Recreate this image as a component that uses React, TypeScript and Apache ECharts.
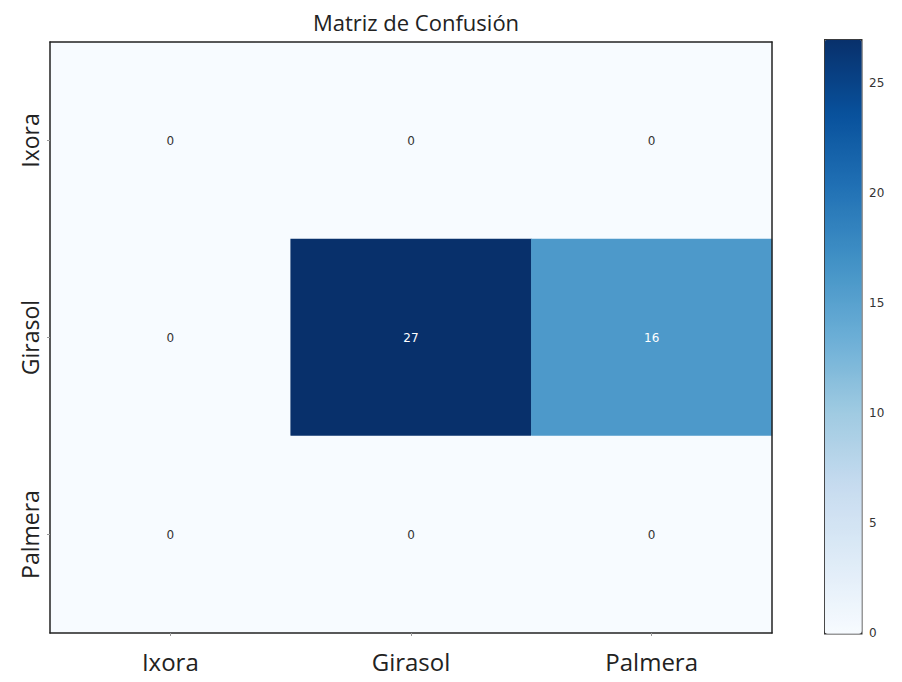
import React, { useEffect, useRef } from "react";
import * as echarts from "echarts";

// Class names (actual on rows, predicted on columns)
const classes = ["Ixora", "Girasol", "Palmera"];
// Confusion counts, one row per actual class
const rowIxora = [0, 0, 0];
const rowGirasol = [0, 27, 16];
const rowPalmera = [0, 0, 0];
const matrix = [rowIxora, rowGirasol, rowPalmera];
// Colour-bar range and ticks
const scaleMin = 0;
const scaleMax = 27;
const colorbarTicks = [0, 5, 10, 15, 20, 25];

// Matplotlib "Blues" colour map
const blues = ["#f7fbff", "#deebf7", "#c6dbef", "#9ecae1", "#6baed6", "#4292c6", "#2171b5", "#08519c", "#08306b"];

export default function App() {
  const ref = useRef<HTMLDivElement>(null);

  useEffect(() => {
    if (!ref.current) return;
    const chart = echarts.init(ref.current, undefined, { renderer: "svg" });

    const data: any[] = [];
    matrix.forEach((row, r) => {
      row.forEach((v, c) => {
        data.push({
          value: [c, r, v],
          label: { color: v > scaleMax / 2 ? "#ffffff" : "#333333" },
        });
      });
    });

    const labelFont = "Open Sans";

    chart.setOption({
      animation: false,
      backgroundColor: "#ffffff",
      title: {
        text: "Matriz de Confusión",
        left: 411,
        textAlign: "center",
        top: 6,
        textStyle: { fontFamily: labelFont, fontSize: 22, fontWeight: "normal", color: "#222" },
      },
      grid: [
        { left: 50, right: 130, top: 42, bottom: 49 },
        { left: 824, width: 37, top: 39, height: 594 },
      ],
      xAxis: [
        {
          type: "category",
          gridIndex: 0,
          data: classes,
          position: "bottom",
          axisLine: { show: true, lineStyle: { color: "#222", width: 1.5 } },
          axisTick: { show: true, alignWithLabel: true, length: 3, lineStyle: { color: "#999" } },
          axisLabel: { fontFamily: labelFont, fontSize: 24, color: "#222", margin: 16 },
          splitLine: { show: false },
          z: 10,
        },
        {
          type: "category",
          gridIndex: 0,
          data: classes,
          position: "top",
          axisLine: { show: true, lineStyle: { color: "#222", width: 1.5 } },
          axisTick: { show: false },
          axisLabel: { show: false },
          z: 10,
        },
        {
          type: "value",
          gridIndex: 1,
          show: false,
        },
      ],
      yAxis: [
        {
          type: "category",
          gridIndex: 0,
          data: classes,
          inverse: true,
          position: "left",
          axisLine: { show: true, lineStyle: { color: "#222", width: 1.5 } },
          axisTick: { show: true, alignWithLabel: true, length: 3, lineStyle: { color: "#999" } },
          axisLabel: { fontFamily: labelFont, fontSize: 23, color: "#222", rotate: 90, margin: 9 },
          z: 10,
        },
        {
          type: "category",
          gridIndex: 0,
          data: classes,
          inverse: true,
          position: "right",
          axisLine: { show: true, lineStyle: { color: "#222", width: 1.5 } },
          axisTick: { show: false },
          axisLabel: { show: false },
          z: 10,
        },
        {
          type: "value",
          gridIndex: 1,
          min: scaleMin,
          max: scaleMax,
          position: "right",
          axisLine: { show: false },
          splitLine: { show: false },
          axisTick: { show: true, length: 5, customValues: colorbarTicks, lineStyle: { color: "#555" } },
          axisLabel: {
            customValues: colorbarTicks,
            fontFamily: "DejaVu Sans",
            fontSize: 12,
            color: "#333",
            margin: 8,
          },
        },
      ],
      visualMap: {
        type: "continuous",
        min: scaleMin,
        max: scaleMax,
        orient: "vertical",
        left: 824,
        top: 39,
        itemWidth: 37,
        itemHeight: 594,
        padding: 0,
        calculable: false,
        hoverLink: false,
        showLabel: false,
        text: ["", ""],
        borderColor: "#333",
        borderWidth: 1.5,
        seriesIndex: 0,
        inRange: { color: blues },
      },
      series: [
        {
          type: "heatmap",
          xAxisIndex: 0,
          yAxisIndex: 0,
          data,
          label: {
            show: true,
            fontFamily: "DejaVu Sans",
            fontSize: 12,
          },
          itemStyle: { borderWidth: 0 },
          emphasis: { disabled: true },
        },
      ],
    });

    return () => chart.dispose();
  }, []);

  return (
    <div
      ref={ref}
      style={{ position: "fixed", left: 0, top: 0, width: 902, height: 682 }}
    />
  );
}
